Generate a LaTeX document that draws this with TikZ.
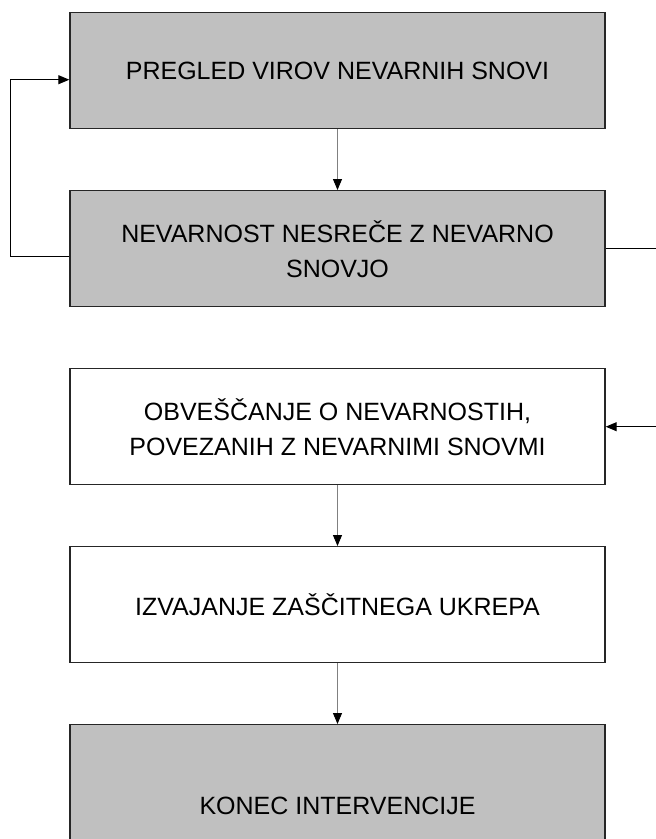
\documentclass[tikz,border=0pt]{standalone}
\usepackage{fontspec}
\setmainfont{Liberation Sans}
\usetikzlibrary{positioning, arrows.meta}
\definecolor{boxgray}{RGB}{192,192,192}
\definecolor{linegray}{RGB}{128,128,128}

\begin{document}
\begin{tikzpicture}[
    x=1pt, y=1pt,
    node distance=60.6pt,
    stepbox/.style={rectangle, draw=black!85, line width=1.4pt, minimum width=535pt, minimum height=116pt, align=center, inner sep=0pt, font=\fontsize{25}{35}\selectfont},
    arrow/.style={-{Triangle[length=11pt, width=9pt, color=black]}, line width=1pt},
    flow/.style={arrow, draw=linegray}
]
\useasboundingbox (0,0) rectangle (656,-839);

\node[stepbox, fill=boxgray] (pregled) at (337.5,-70.7) {PREGLED VIROV NEVARNIH SNOVI};
\node[stepbox, fill=boxgray, below=of pregled] (nevarnost) {NEVARNOST NESREČE Z NEVARNO\\SNOVJO};
\node[stepbox, fill=white, below=of nevarnost] (obvescanje) {OBVEŠČANJE O NEVARNOSTIH,\\POVEZANIH Z NEVARNIMI SNOVMI};
\node[stepbox, fill=white, below=of obvescanje] (izvajanje) {IZVAJANJE ZAŠČITNEGA UKREPA};
\node[stepbox, fill=boxgray, minimum height=162pt, below=of izvajanje] (konec) {KONEC INTERVENCIJE};

\draw[flow] (pregled) -- (nevarnost);
\draw[flow] (obvescanje) -- (izvajanje);
\draw[flow] (izvajanje) -- (konec);

% povratni zanki
\draw[arrow] ([yshift=-8pt]nevarnost.west) -- ++(-59,0) |- ([yshift=-9pt]pregled.west);
\draw[arrow] (nevarnost.east) -- ++(56,0) |- (obvescanje.east);

\end{tikzpicture}
\end{document}
